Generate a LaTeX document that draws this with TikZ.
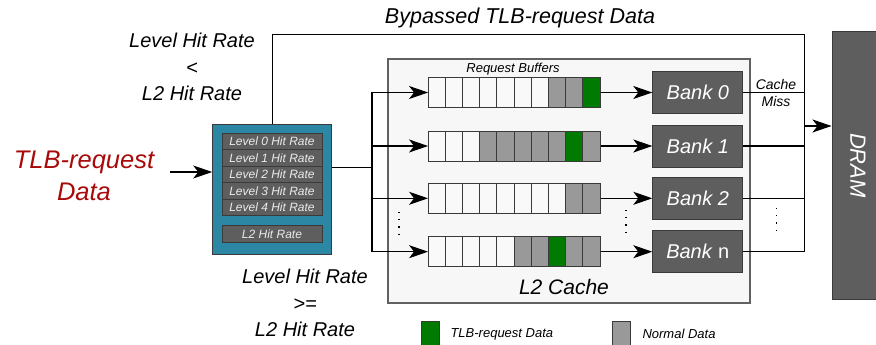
\documentclass[tikz,border=0pt]{standalone}
\usepackage{fontspec}
\setmainfont{Liberation Sans}
\usetikzlibrary{arrows.meta,calc}

\definecolor{tealbox}{HTML}{2B87A3}
\definecolor{darkcell}{HTML}{5E5E5E}
\definecolor{edgegray}{HTML}{3A3A3A}
\definecolor{cw}{HTML}{F9F9F9}
\definecolor{cg}{HTML}{999999}
\definecolor{ct}{HTML}{007A00}
\definecolor{cachebg}{HTML}{F7F7F7}
\definecolor{tlbred}{HTML}{A80A0A}

\begin{document}
\begin{tikzpicture}[x=1pt,y=-1pt,line width=1.1pt,
  >={Stealth[length=19pt,width=13pt,inset=5pt]},
  lbl/.style={align=center,inner sep=0pt,font=\fontsize{20}{26.5}\selectfont\itshape},
  small/.style={inner sep=0pt,font=\fontsize{13}{13}\selectfont\itshape},
  lvlrow/.style={draw=edgegray,fill=darkcell,line width=0.8pt,minimum width=100,
    minimum height=16.5,inner sep=0pt,text=white!92!black,font=\fontsize{12}{12}\selectfont\itshape},
  bank/.style={draw=edgegray,fill=darkcell,line width=1pt,minimum width=90,minimum height=42,
    inner sep=0pt,text=white,font=\fontsize{20}{20}\selectfont\itshape},
  dots/.style={line width=1.5pt,dash pattern=on 1.2pt off 6pt}]
\useasboundingbox (0,0) rectangle (876,345);

% request source and hit-rate table
\node[lbl,text=tlbred,font=\fontsize{25.5}{32}\selectfont\itshape] (tlbsrc) at (84,176) {TLB-request\\Data};
\coordinate (inarr) at (170,172);
\node[draw=edgegray,fill=tealbox,line width=1pt,minimum width=119,minimum height=130] (hitbox) at (272.2,189) {};
\foreach \i in {0,...,4}
  \node[lvlrow] (lv\i) at (272,{141.6+16.5*\i}) {Level \i\ Hit Rate};
\node[lvlrow,minimum height=17.4] (lvl2) at (272,234) {L2 Hit Rate};
\draw[->] (inarr) -- (hitbox.west |- inarr);

\node[lbl] (ltop) at (192,67) {Level Hit Rate\\<\\L2 Hit Rate};
\node[lbl] (lbot) at (305,303) {Level Hit Rate\\>=\\L2 Hit Rate};

% L2 cache
\node[draw=edgegray!80,fill=cachebg,line width=1.2pt,minimum width=362,minimum height=244] (l2) at (569,181) {};
\node[small] (rblbl) at (513,69) {Request Buffers};
\node[lbl,font=\fontsize{21}{21}\selectfont\itshape] (l2lbl) at (564,287) {L2 Cache};

\foreach \r/\y/\cols/\b in {0/92.5/{cw,cw,cw,cw,cw,cw,cw,cg,cg,ct}/0,
                           1/146/{cw,cw,cw,cg,cg,cg,cg,cg,ct,cg}/1,
                           2/198.3/{cw,cw,cw,cw,cw,cw,cw,cw,cg,cg}/2,
                           3/251.7/{cw,cw,cw,cw,cw,cg,cg,ct,cg,cg}/\textup{n}} {
  \node[minimum width=172,minimum height=30,inner sep=0pt] (buf\r) at (514.6,\y) {};
  \foreach \c [count=\i from 0] in \cols
    \path[draw=edgegray,fill=\c,line width=0.9pt] ($(buf\r.west)+(\i*17.2,-15)$) rectangle ++(17.2,30);
  \node[bank] (bank\r) at (697.8,\y) {Bank \b};
}

% DRAM
\node[draw=edgegray,fill=darkcell,line width=1pt,minimum width=52,minimum height=267] (dram) at (858,165.5) {};
\node[rotate=-90,text=white,inner sep=0pt,font=\fontsize{22}{22}\selectfont\itshape] (dramtxt) at (dram) {DRAM};

% buses
\coordinate (busin) at (372,167.3);
\coordinate (busout) at (804.3,126);
\coordinate (bypass) at (272,34.5);
\draw (hitbox.east |- busin) -- (busin);
\draw (busin |- buf0) -- (busin |- buf3);
\foreach \r in {0,...,3} {
  \draw[->] (busin |- buf\r) -- (buf\r.west);
  \draw[->] (buf\r.east) -- (bank\r.west);
  \draw (bank\r.east) -- (busout |- bank\r);
}
\draw (hitbox.north) -- (hitbox.north |- bypass) -| (busout |- bank3);
\draw[->] (busout) -- (dram.west |- busout);
\node[lbl,font=\fontsize{21.5}{21.5}\selectfont\itshape] (bypasslbl) at (520,18) {Bypassed TLB-request Data};
\node[align=center,inner sep=0pt,font=\fontsize{14}{17}\selectfont\itshape] (misslbl) at (776,92.5) {Cache\\Miss};

\draw[dots] (399,212) -- (399,240);
\draw[dots] (626,210) -- (626,238);
\draw[dots] (776.5,208) -- (776.5,236);

% legend
\node[draw=edgegray,fill=ct,line width=0.9pt,minimum width=18,minimum height=26,inner sep=0pt] (legt) at (430,334) {};
\node[small] (legtlbl) at (450,334) [anchor=west] {TLB-request Data};
\node[draw=edgegray,fill=cg,line width=0.9pt,minimum width=18,minimum height=26,inner sep=0pt] (legn) at (621,334) {};
\node[small] (legnlbl) at (642,334) [anchor=west] {Normal Data};
\end{tikzpicture}
\end{document}
